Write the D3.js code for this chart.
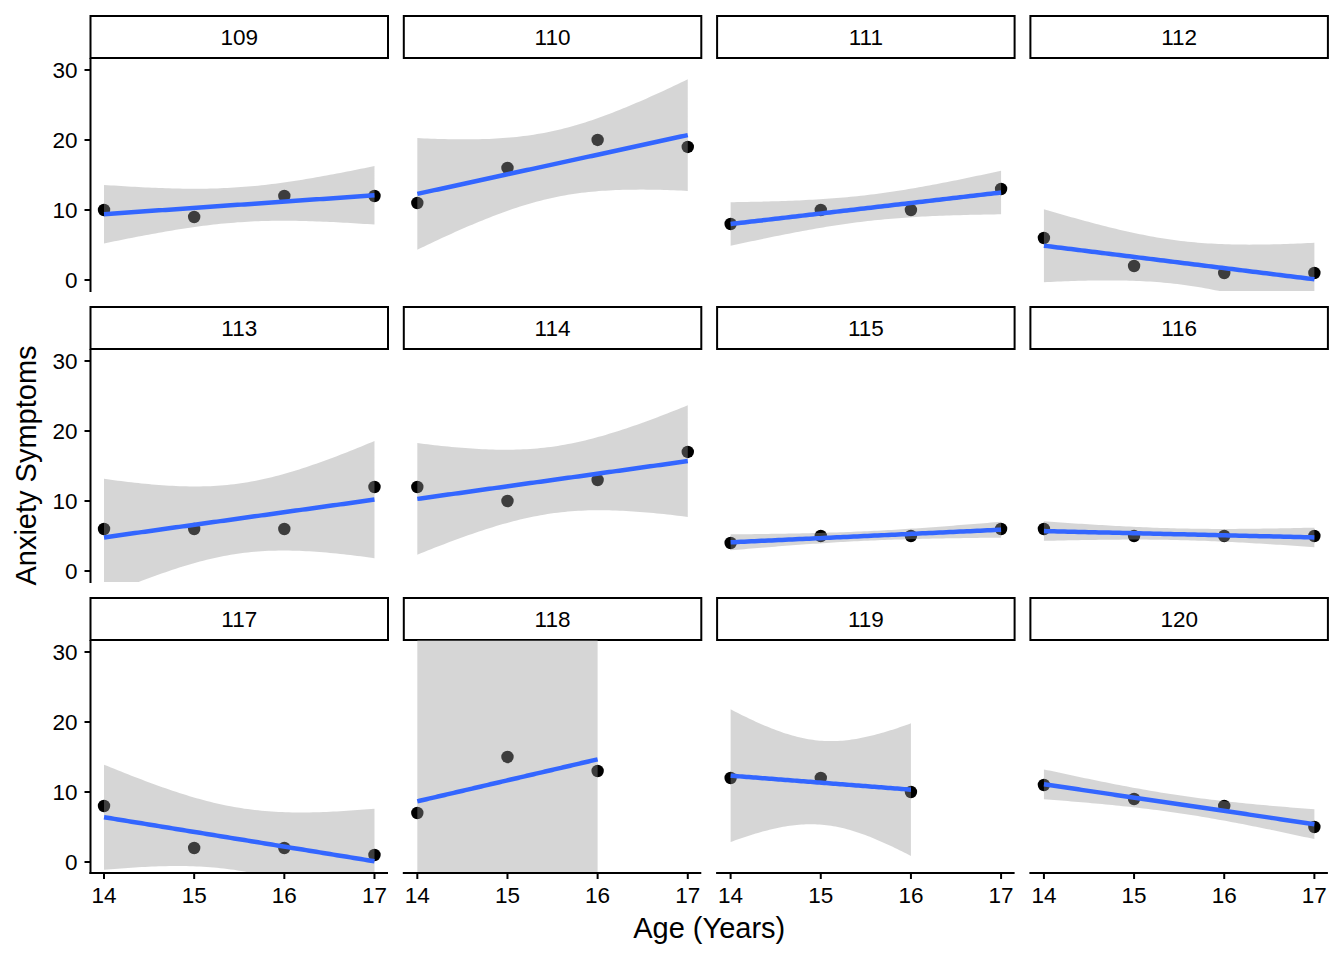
<!DOCTYPE html>
<meta charset="utf-8">
<style>
body { margin: 0; background: #fff; }
text { font-family: "Liberation Sans", Arial, sans-serif; fill: #000; }
.band { fill: #999999; fill-opacity: 0.4; stroke: none; }
.fit { fill: none; stroke: #3366FF; stroke-width: 4.5px; }
.axis-line { stroke: #000; stroke-width: 2px; }
</style>
<script src="https://cdn.jsdelivr.net/npm/d3@7"></script>
<body>
<script>

// data
var subjects = ["109", "110", "111", "112", "113", "114", "115", "116", "117", "118", "119", "120"];
var ages = [14, 15, 16, 17];
var anxiety = [
  [10, 9, 12, 12],
  [11, 16, 20, 19],
  [8, 10, 10, 13],
  [6, 2, 1, 1],
  [6, 6, 6, 12],
  [12, 10, 13, 17],
  [4, 5, 5, 6],
  [6, 5, 5, 5],
  [8, 2, 2, 1],
  [7, 15, 13, null],
  [12, 12, 10, null],
  [11, 9, 8, 5]
];
var yTicks = [0, 10, 20, 30];
var xTicks = [14, 15, 16, 17];

// 97.5% t quantiles by degrees of freedom
var tCrit = {1: 12.706, 2: 4.303, 3: 3.182};

var width = 1344,
    height = 960;

var left = 90.5, top0 = 16,
    panelW = 297.5, panelH = 233,
    stripH = 42,
    stepX = 313.3, stepY = 291,
    ncol = 4;

var svg = d3.select("body")
  .append("svg")
    .attr("width", width)
    .attr("height", height);

var x = d3.scaleLinear().domain([13.85, 17.15]).range([0, panelW]);
var y = d3.scaleLinear().domain([-1.57, 31.71]).range([panelH, 0]);

function fit(xs, ys) {
  var n = xs.length,
      mx = d3.mean(xs), my = d3.mean(ys),
      sxx = d3.sum(xs, function (v) { return (v - mx) * (v - mx); }),
      sxy = d3.sum(xs, function (v, i) { return (v - mx) * (ys[i] - my); }),
      b = sxy / sxx,
      a = my - b * mx,
      rss = d3.sum(xs, function (v, i) { var r = ys[i] - (a + b * v); return r * r; }),
      s = Math.sqrt(rss / (n - 2)),
      t = tCrit[n - 2];
  var lo = d3.min(xs), hi = d3.max(xs);
  return d3.range(80).map(function (k) {
    var xv = lo + (hi - lo) * k / 79,
        yv = a + b * xv,
        se = s * Math.sqrt(1 / n + (xv - mx) * (xv - mx) / sxx);
    return {x: xv, y: yv, lo: yv - t * se, hi: yv + t * se};
  });
}

var area = d3.area()
  .x(function (d) { return x(d.x); })
  .y0(function (d) { return y(d.lo); })
  .y1(function (d) { return y(d.hi); });

var line = d3.line()
  .x(function (d) { return x(d.x); })
  .y(function (d) { return y(d.y); });

var nrow = Math.ceil(subjects.length / ncol);

subjects.forEach(function (id, i) {
  var col = i % ncol, row = Math.floor(i / ncol);
  var px = left + col * stepX,
      sy = top0 + row * stepY,
      py = sy + stripH;

  var pts = [];
  anxiety[i].forEach(function (v, j) {
    if (v != null) pts.push({x: ages[j], y: v});
  });

  // strip
  svg.append("rect")
    .attr("x", px).attr("y", sy)
    .attr("width", panelW).attr("height", stripH)
    .attr("fill", "#fff")
    .attr("stroke", "#000")
    .attr("stroke-width", 2);
  svg.append("text")
    .attr("x", px + panelW / 2).attr("y", sy + stripH / 2)
    .attr("dy", "0.36em")
    .attr("text-anchor", "middle")
    .attr("font-size", "22.5px")
    .text(id);

  var g = svg.append("g").attr("transform", "translate(" + px + "," + py + ")");

  svg.append("clipPath").attr("id", "clip" + i)
    .append("rect").attr("width", panelW).attr("height", panelH);

  var plot = g.append("g").attr("clip-path", "url(#clip" + i + ")");

  plot.selectAll("circle")
    .data(pts)
    .enter().append("circle")
      .attr("cx", function (d) { return x(d.x); })
      .attr("cy", function (d) { return y(d.y); })
      .attr("r", 6.2)
      .attr("fill", "#000");

  var f = fit(pts.map(function (d) { return d.x; }), pts.map(function (d) { return d.y; }));
  plot.append("path").attr("class", "band").attr("d", area(f));
  plot.append("path").attr("class", "fit").attr("d", line(f));

  // y axis on the first column
  if (col === 0) {
    g.append("line").attr("class", "axis-line")
      .attr("x1", 0).attr("x2", 0).attr("y1", 0).attr("y2", panelH + 1);
    yTicks.forEach(function (t) {
      g.append("line").attr("class", "axis-line")
        .attr("x1", -6).attr("x2", 0).attr("y1", y(t)).attr("y2", y(t));
      g.append("text")
        .attr("x", -13).attr("y", y(t))
        .attr("dy", "0.36em")
        .attr("text-anchor", "end")
        .attr("font-size", "22.5px")
        .text(t);
    });
  }

  // x axis on the bottom row
  if (row === nrow - 1) {
    g.append("line").attr("class", "axis-line")
      .attr("x1", -1).attr("x2", panelW).attr("y1", panelH).attr("y2", panelH);
    xTicks.forEach(function (t) {
      g.append("line").attr("class", "axis-line")
        .attr("x1", x(t)).attr("x2", x(t)).attr("y1", panelH).attr("y2", panelH + 6);
      g.append("text")
        .attr("x", x(t)).attr("y", panelH + 22)
        .attr("dy", "0.36em")
        .attr("text-anchor", "middle")
        .attr("font-size", "22.5px")
        .text(t);
    });
  }
});

var plotBottom = top0 + (nrow - 1) * stepY + stripH + panelH;

svg.append("text")
  .attr("x", left + (3 * stepX + panelW) / 2)
  .attr("y", plotBottom + 55)
  .attr("dy", "0.36em")
  .attr("text-anchor", "middle")
  .attr("font-size", "29px")
  .text("Age (Years)");

svg.append("text")
  .attr("transform", "translate(26," + ((top0 + stripH + plotBottom) / 2) + ") rotate(-90)")
  .attr("dy", "0.36em")
  .attr("text-anchor", "middle")
  .attr("font-size", "29px")
  .text("Anxiety Symptoms");

</script>
</body>
